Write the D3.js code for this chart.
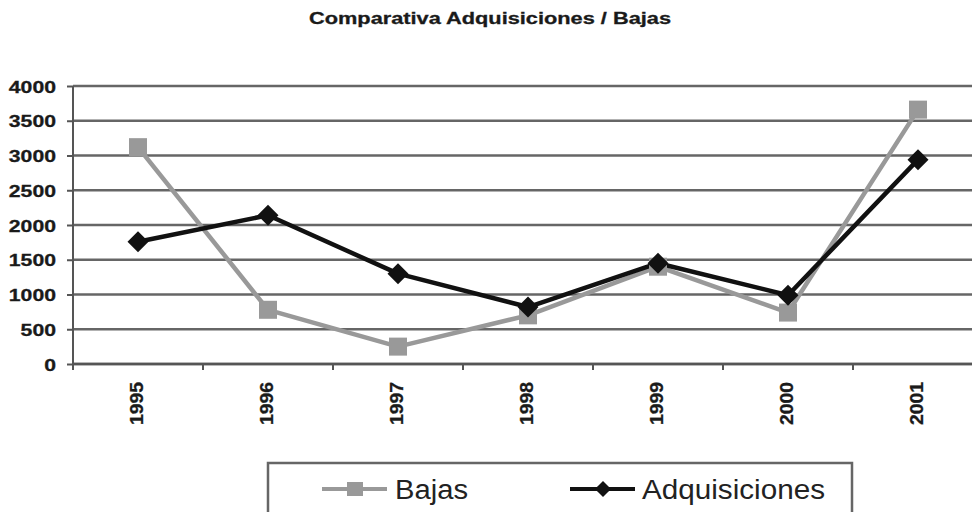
<!DOCTYPE html>
<html>
<head>
<meta charset="utf-8">
<script src="https://cdn.jsdelivr.net/npm/d3@7"></script>
<style>
  html, body { margin: 0; padding: 0; background: #fff; }
  svg { display: block; font-family: Arial, "Liberation Sans", sans-serif; }
</style>
</head>
<body>
<svg id="chart" width="972" height="512"></svg>
<script>
// Yearly comparison of acquisitions and withdrawals
const years = ["1995", "1996", "1997", "1998", "1999", "2000", "2001"];
const bajas = [3120, 780, 250, 700, 1400, 740, 3660];
const adquisiciones = [1760, 2140, 1300, 820, 1450, 990, 2940];
const yTicks = [0, 500, 1000, 1500, 2000, 2500, 3000, 3500, 4000];
const chartTitle = "Comparativa Adquisiciones / Bajas";

(function () {
const svg = d3.select("#chart");
const W = 972, H = 512;
svg.append("rect").attr("width", W).attr("height", H).attr("fill", "#fff");

const plotLeft = 73, plotRight = 983, plotTop = 86, plotBottom = 364;

const x = d3.scaleBand().domain(years).range([plotLeft, plotRight]).paddingInner(0).paddingOuter(0);
const y = d3.scaleLinear().domain([0, 4000]).range([plotBottom, plotTop]);
const cx = d => x(d) + x.bandwidth() / 2;

// Square-proportioned diamond marker (as wide as it is tall)
const wideDiamond = {
  draw(context, size) {
    const r = Math.sqrt(size / 2);
    context.moveTo(0, -r);
    context.lineTo(r, 0);
    context.lineTo(0, r);
    context.lineTo(-r, 0);
    context.closePath();
  }
};

// Title
svg.append("text")
  .attr("x", 490).attr("y", 24)
  .attr("text-anchor", "middle")
  .attr("font-size", 16.5).attr("font-weight", "bold").attr("fill", "#1a1a1a")
  .attr("stroke", "#1a1a1a").attr("stroke-width", 0.3)
  .attr("textLength", 362).attr("lengthAdjust", "spacingAndGlyphs")
  .text(chartTitle);

// Horizontal gridlines
svg.append("g").selectAll("line").data(yTicks).join("line")
  .attr("x1", plotLeft).attr("x2", plotRight)
  .attr("y1", d => y(d)).attr("y2", d => y(d))
  .attr("stroke", "#666").attr("stroke-width", 2.5);

// Y axis
const yAxis = svg.append("g").attr("transform", `translate(${plotLeft},0)`)
  .call(d3.axisLeft(y).tickValues(yTicks).tickSize(6).tickFormat(d3.format("d")));
yAxis.select(".domain").attr("stroke", "#555").attr("stroke-width", 2)
  .attr("d", `M0,${plotTop}V${plotBottom + 6}`);
yAxis.selectAll(".tick line").attr("stroke", "#555").attr("stroke-width", 2);
yAxis.selectAll(".tick text")
  .attr("x", -17).attr("dy", "0.36em")
  .attr("font-size", 17).attr("font-weight", "bold").attr("fill", "#1a1a1a")
  .attr("stroke", "#1a1a1a").attr("stroke-width", 0.3)
  .attr("font-family", "Arial, 'Liberation Sans', sans-serif")
  .each(function (d) {
    const s = String(d);
    d3.select(this).attr("textLength", s.length * 11.8).attr("lengthAdjust", "spacingAndGlyphs");
  });

// X axis: ticks at category boundaries
const xAxisG = svg.append("g");
xAxisG.append("line")
  .attr("x1", plotLeft).attr("x2", plotRight).attr("y1", plotBottom).attr("y2", plotBottom)
  .attr("stroke", "#555").attr("stroke-width", 2.5);
xAxisG.selectAll("line.tick").data(years.slice(1)).join("line")
  .attr("class", "tick")
  .attr("x1", d => x(d)).attr("x2", d => x(d))
  .attr("y1", plotBottom).attr("y2", plotBottom + 6)
  .attr("stroke", "#555").attr("stroke-width", 2);
xAxisG.selectAll("text").data(years).join("text")
  .attr("transform", d => `translate(${cx(d) + 5},382) rotate(-90)`)
  .attr("text-anchor", "end")
  .attr("font-size", 17.5).attr("font-weight", "bold").attr("fill", "#1a1a1a")
  .attr("stroke", "#1a1a1a").attr("stroke-width", 0.3)
  .attr("textLength", 43).attr("lengthAdjust", "spacingAndGlyphs")
  .text(d => d);

// Series lines
const line = d3.line().x((d, i) => cx(years[i])).y(d => y(d));

svg.append("path").datum(bajas)
  .attr("d", line).attr("fill", "none")
  .attr("stroke", "#999").attr("stroke-width", 4.5).attr("stroke-linejoin", "round");
svg.append("path").datum(adquisiciones)
  .attr("d", line).attr("fill", "none")
  .attr("stroke", "#111").attr("stroke-width", 4.5).attr("stroke-linejoin", "round");

// Markers
const sq = 18;
svg.append("g").selectAll("rect").data(bajas).join("rect")
  .attr("x", (d, i) => cx(years[i]) - sq / 2)
  .attr("y", d => y(d) - sq / 2)
  .attr("width", sq).attr("height", sq)
  .attr("fill", "#999");

const diamond = d3.symbol().type(wideDiamond).size(220);
svg.append("g").selectAll("path").data(adquisiciones).join("path")
  .attr("d", diamond)
  .attr("transform", (d, i) => `translate(${cx(years[i])},${y(d)})`)
  .attr("fill", "#111");

// Legend
const legend = svg.append("g");
legend.append("rect")
  .attr("x", 268).attr("y", 463).attr("width", 584).attr("height", 70)
  .attr("fill", "#fff").attr("stroke", "#666").attr("stroke-width", 2.5);

const legendItems = [
  { name: "Bajas", color: "#999", shape: "square", x0: 322, tx: 395, tl: 73 },
  { name: "Adquisiciones", color: "#111", shape: "diamond", x0: 570, tx: 642, tl: 183 }
];
legendItems.forEach(it => {
  const g = legend.append("g");
  const ly = 489;
  g.append("line")
    .attr("x1", it.x0).attr("x2", it.x0 + 65).attr("y1", ly).attr("y2", ly)
    .attr("stroke", it.color).attr("stroke-width", 4);
  if (it.shape === "square") {
    g.append("rect").attr("x", it.x0 + 33 - 8).attr("y", ly - 7)
      .attr("width", 16).attr("height", 14).attr("fill", it.color);
  } else {
    g.append("path").attr("d", d3.symbol().type(wideDiamond).size(130))
      .attr("transform", `translate(${it.x0 + 33},${ly})`).attr("fill", it.color);
  }
  g.append("text")
    .attr("x", it.tx).attr("y", 499)
    .attr("font-size", 27).attr("fill", "#222")
    .attr("textLength", it.tl).attr("lengthAdjust", "spacingAndGlyphs")
    .text(it.name);
});
})();
</script>
</body>
</html>
